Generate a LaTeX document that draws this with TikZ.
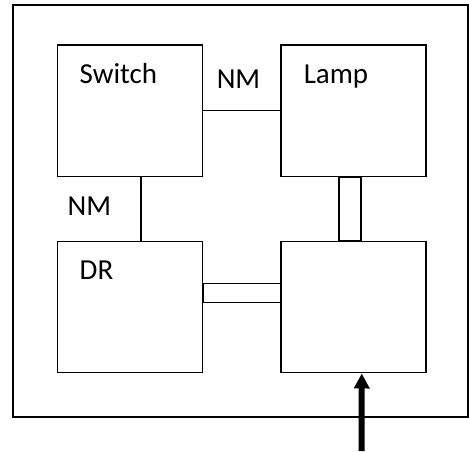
\documentclass[tikz,border=0pt]{standalone}
\usepackage{fontspec}
\setmainfont{Carlito}
\usetikzlibrary{arrows.meta}

\begin{document}
\begin{tikzpicture}[x=0.02cm,y=-0.02cm,line width=0.85pt,
		block/.style={draw,inner sep=0pt,minimum width=2.9cm,minimum height=2.63cm},
		lbl/.style={anchor=base west,inner sep=0pt,font=\fontsize{16.5}{19}\selectfont}
	]
	\useasboundingbox (0,0) rectangle (469,451);
	\draw (13,5) rectangle (468,417);
	% the four blocks
	\node[block] (switch) at (130,110.5) {};
	\node[block] (lamp) at (353.5,110.5) {};
	\node[block] (dr) at (130,307) {};
	\node[block] (out) at (353.5,307) {};
	\node[lbl] (switchtxt) at (79,83) {Switch};
	\node[lbl] (lamptxt) at (303,83) {Lamp};
	\node[lbl] (drtxt) at (79,279) {DR};
	\node[lbl] (nmtop) at (216,88) {NM};
	\node[lbl] (nmleft) at (67,215) {NM};
	% links
	\draw (switch) -- (lamp);
	\draw ([xshift=0.22cm]switch.south) -- ([xshift=0.22cm]dr.north);
	\draw ([xshift=-0.29cm]lamp.south) rectangle ([xshift=0.15cm]out.north);
	\draw ([yshift=0.47cm]dr.east) rectangle ([yshift=0.09cm]out.west);
	% input arrow
	\coordinate (feed) at (361.7,451);
	\draw[line width=0.12cm,-{Triangle[length=0.3cm,width=0.3cm]}] (feed) -- ([xshift=0.165cm]out.south);
\end{tikzpicture}
\end{document}
